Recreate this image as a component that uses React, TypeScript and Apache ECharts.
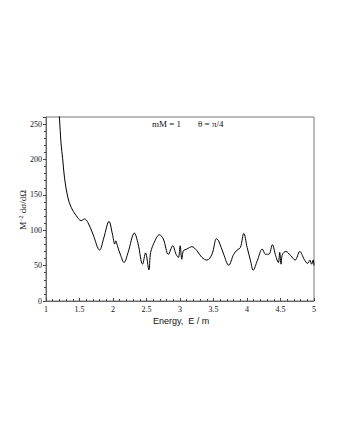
import React, { useEffect, useRef } from "react";
import * as echarts from "echarts";

const energy = [
  1.17, 1.2, 1.225, 1.249, 1.275, 1.324, 1.375, 1.45, 1.526, 1.575, 1.625, 1.7, 1.8, 1.865,
  1.94, 1.991, 2.026, 2.041, 2.066, 2.116, 2.165, 2.225, 2.32, 2.375, 2.441, 2.486, 2.536,
  2.562, 2.626, 2.691, 2.751, 2.826, 2.892, 2.941, 2.976, 3.002, 3.027, 3.051, 3.102, 3.177,
  3.252, 3.327, 3.402, 3.477, 3.545, 3.577, 3.652, 3.727, 3.802, 3.853, 3.902, 3.952, 4.002,
  4.053, 4.093, 4.153, 4.228, 4.278, 4.327, 4.378, 4.428, 4.468, 4.488, 4.508, 4.529, 4.58,
  4.653, 4.718, 4.788, 4.853, 4.904, 4.938, 4.964, 4.988, 5.0,
];
const crossSection = [
  300, 260, 222, 201, 175, 147, 132.5, 120.7, 113.6, 116, 111, 94.7, 72, 90,
  112.6, 94.7, 80.5, 85, 78, 64, 54.4, 68.6, 96, 80.5, 52, 68, 44,
  68.6, 85, 93.7, 87.6, 66, 78, 66, 61.5, 78, 59, 71, 73.4, 76.7,
  71, 61.5, 57.8, 66, 88, 85, 66, 50.6, 66, 72, 75.7, 95.6, 75.7,
  56.8, 43.6, 56.8, 73.4, 66, 66, 79.5, 64, 54.4, 68.6, 52, 66, 70,
  64, 57.8, 70, 59, 53, 57.8, 52, 58, 50,
];
const xTicks = [1, 1.5, 2, 2.5, 3, 3.5, 4, 4.5, 5];
const yTicks = [0, 50, 100, 150, 200, 250];

const serif = "Liberation Serif";

export default function App() {
  const ref = useRef<HTMLDivElement>(null);
  useEffect(() => {
    if (!ref.current) return;
    const chart = echarts.init(ref.current, null, { renderer: "svg" });
    chart.setOption({
      animation: false,
      backgroundColor: "#ffffff",
      grid: {
        left: 46,
        right: 26,
        top: 117,
        bottom: 139,
        show: true,
        borderColor: "#777",
        borderWidth: 1,
      },
      xAxis: {
        type: "value",
        min: xTicks[0],
        max: xTicks[xTicks.length - 1],
        interval: 0.5,
        axisLine: { show: true, lineStyle: { color: "#666", width: 1 } },
        axisTick: { show: true, inside: true, length: 3, lineStyle: { color: "#444" } },
        minorTick: { show: true, splitNumber: 5, length: 2, lineStyle: { color: "#444" } },
        splitLine: { show: false },
        axisLabel: {
          color: "#111",
          fontFamily: serif,
          fontSize: 8,
          margin: 4,
          formatter: (v: number) => (xTicks.includes(v) ? String(v) : ""),
        },
      },
      yAxis: {
        type: "value",
        min: 0,
        max: 260,
        interval: 50,
        axisLine: { show: true, lineStyle: { color: "#666", width: 1 } },
        axisTick: { show: true, inside: false, length: 3, lineStyle: { color: "#444" } },
        minorTick: { show: true, splitNumber: 5, length: 2, lineStyle: { color: "#444" } },
        splitLine: { show: false },
        axisLabel: {
          color: "#111",
          fontFamily: serif,
          fontSize: 8,
          margin: 4,
          formatter: (v: number) => (yTicks.includes(v) ? String(v) : ""),
        },
      },
      graphic: [
        {
          type: "text",
          x: 23,
          y: 210,
          rotation: Math.PI / 2,
          style: {
            text: "M{sup|−2} dσ/dΩ",
            font: `9px "${serif}"`,
            fill: "#111",
            align: "center",
            verticalAlign: "middle",
            rich: {
              sup: { font: `6px "${serif}"`, fill: "#111", verticalAlign: "top", padding: [0, 0, 5, 0] },
            },
          },
        },
        {
          type: "text",
          left: 152,
          top: 119,
          style: { text: "mM = 1", font: `9px "${serif}"`, fill: "#111" },
        },
        {
          type: "text",
          left: 198,
          top: 119,
          style: { text: "θ = π/4", font: `9px "${serif}"`, fill: "#111" },
        },
        {
          type: "text",
          left: 153,
          top: 316,
          style: { text: "Energy,  E / m", font: `9px "Liberation Sans"`, fill: "#111" },
        },
      ],
      series: [
        {
          type: "line",
          data: energy.map((e, i) => [e, crossSection[i]]),
          showSymbol: false,
          smooth: 0.35,
          clip: true,
          lineStyle: { color: "#000", width: 1 },
        },
      ],
    });
    return () => chart.dispose();
  }, []);
  return (
    <div
      ref={ref}
      style={{ position: "fixed", left: 0, top: 0, width: 340, height: 440, background: "#fff" }}
    />
  );
}
